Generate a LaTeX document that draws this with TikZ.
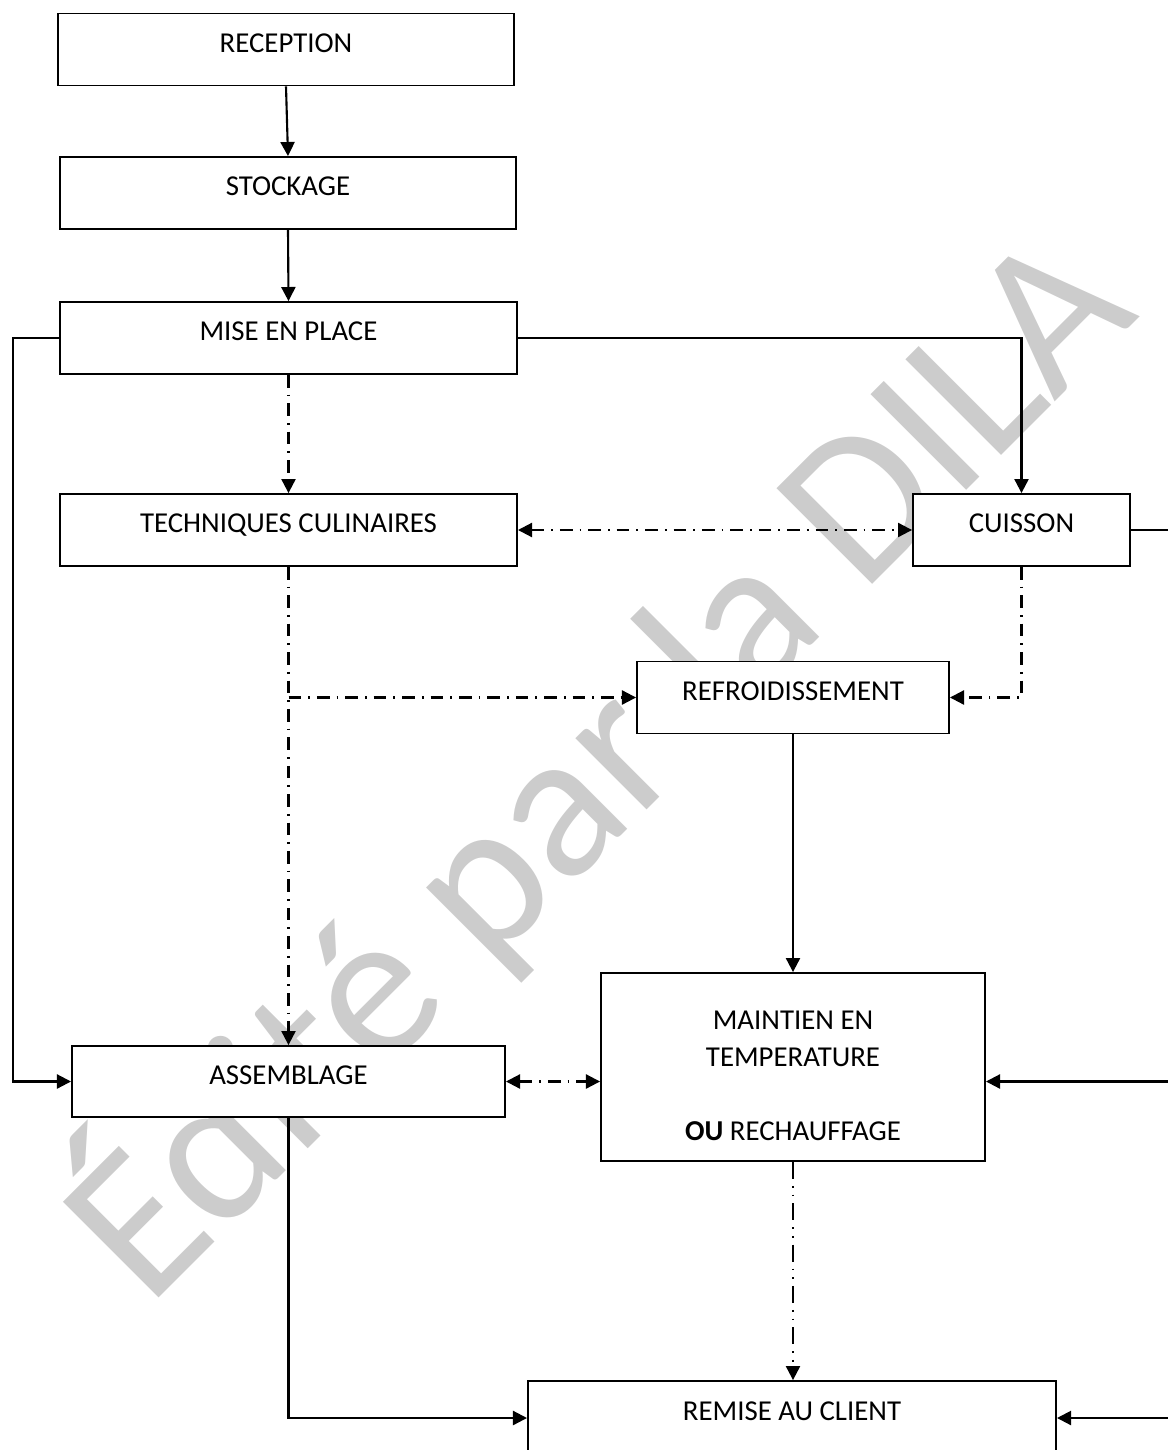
\documentclass[tikz,border=0pt]{standalone}
\usepackage{fontspec}
\setmainfont{Carlito}
\usetikzlibrary{arrows.meta}
\tikzset{
	stepnode/.style  = {shape=rectangle, draw, fill=white, line width=1.3pt,
		minimum height=1.8cm, text height=13pt, text depth=9.3pt},
	bignode/.style   = {shape=rectangle, draw, fill=white, line width=1.3pt,
		align=center},
	watermark/.style = {text=black!20, inner sep=0pt, rotate=45,
		anchor=base west, font=\fontsize{150}{150}\selectfont},
	flow/.style      = {line width=1.5pt, ->},
	dashflow/.style  = {flow, dash pattern=on 9pt off 5pt on 1.2pt off 5pt},
	dotflow/.style   = {flow, dash pattern=on 12pt off 5pt on 1.2pt off 5pt on 1.2pt off 5pt}
}
\begin{document}
\begin{tikzpicture}
[
x                 = 0.025cm,
y                 = -0.025cm,
>                 = {Triangle[length=10pt, width=10pt]},
every node/.style = {font=\fontsize{20.5}{26.3}\selectfont}
]
\useasboundingbox (0,0) rectangle (1167,1450);
\node [watermark] (wm) at (148,1309) {Édité par la DILA};

\node [stepnode, minimum width=11.4cm]   (rec)  at (286,49.5)   {RECEPTION};
\node [stepnode, minimum width=11.4cm]   (sto)  at (288,193)    {STOCKAGE};
\node [stepnode, minimum width=11.425cm] (mep)  at (288.5,338)  {MISE EN PLACE};
\node [stepnode, minimum width=11.425cm] (tech) at (288.5,530)  {TECHNIQUES CULINAIRES};
\node [stepnode, minimum width=5.425cm]  (cuis) at (1021.5,530) {CUISSON};
\node [stepnode, minimum width=7.8cm]    (refr) at (793,697.5)  {REFROIDISSEMENT};
\node [bignode, minimum width=9.6cm, minimum height=4.7cm] (mt) at (793,1067)
	{\rule{0pt}{25.1pt}MAINTIEN EN\\TEMPERATURE\\[26.3pt]\textbf{OU} RECHAUFFAGE};
\node [stepnode, minimum width=10.825cm, minimum height=1.775cm] (ass) at (288.5,1081.5) {ASSEMBLAGE};
\node [stepnode, minimum width=13.2cm, minimum height=1.85cm]    (rem) at (792,1418)    {REMISE AU CLIENT};

\coordinate (lft) at (13,0);
\coordinate (rgt) at (1185,0);

\draw [flow] (rec.south) -- (sto.north);
\draw [flow] (sto.south) -- (mep.north);
\draw [flow] (mep.west) -- (mep.west -| lft) -- (lft |- ass.west) -- (ass.west);
\draw [flow] (mep.east) -| (cuis.north);
\draw [dashflow] (mep.south) -- (tech.north);
\draw [dashflow, <->] (tech.east) -- (cuis.west);
\draw [dashflow] (tech.south) -- (ass.north);
\draw [dashflow] (tech.south |- refr.west) -- (refr.west);
\draw [dashflow] (cuis.south) |- (refr.east);
\draw [flow] (refr.south) -- (mt.north);
\draw [dashflow, <->] (ass.east) -- (mt.west |- ass.east);
\draw [dotflow] (mt.south) -- (mt.south |- rem.north);
\draw [flow] (ass.south) |- (rem.west);
\draw [flow] (cuis.east) -- (cuis.east -| rgt) -- (rgt |- rem.east) -- (rem.east);
\draw [flow] (rgt |- ass.east) -- (mt.east |- ass.east);
\end{tikzpicture}
\end{document}
